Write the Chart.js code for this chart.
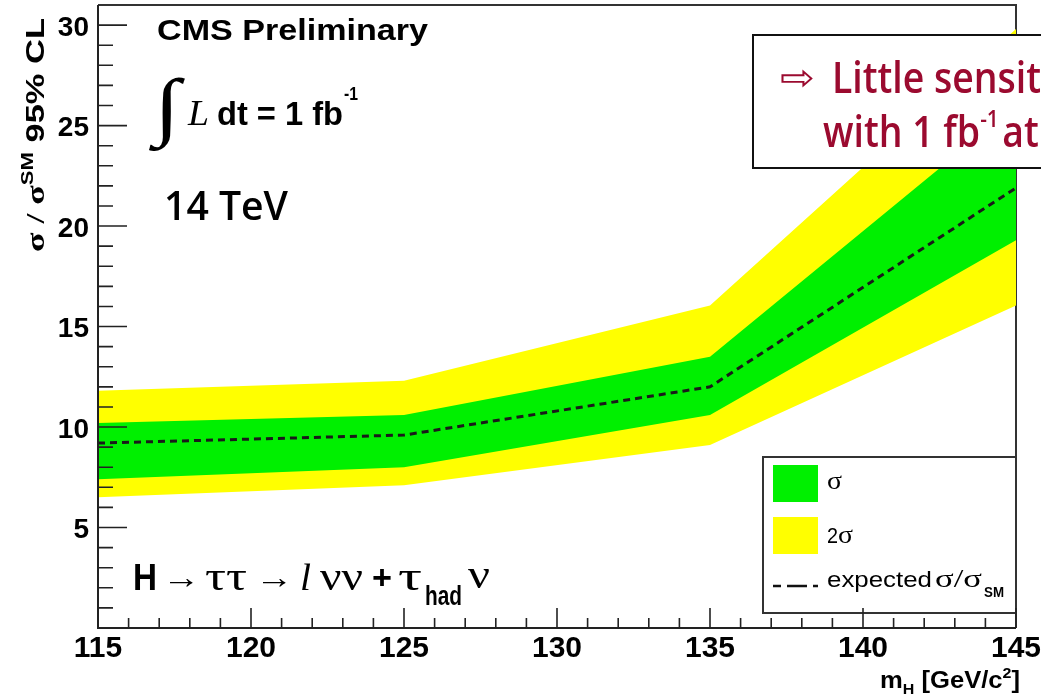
<!DOCTYPE html>
<html>
<head>
<meta charset="utf-8">
<script src="https://cdn.jsdelivr.net/npm/chart.js@4.4.0/dist/chart.umd.min.js"></script>
<style>
html, body { margin: 0; padding: 0; background: #fff; }
canvas { display: block; }
</style>
</head>
<body>
<canvas id="myChart" width="1041" height="697"></canvas>
<script>
// Higgs mass points and limit bands (sigma / sigma_SM at 95% CL)
const massPoints = [115, 125, 135, 145];
const expected = [9.2, 9.6, 12.0, 21.9];
const oneSigmaUp = [10.2, 10.6, 13.5, 26.0];
const oneSigmaDown = [7.4, 8.0, 10.6, 19.3];
const twoSigmaUp = [11.8, 12.3, 16.05, 29.8];
const twoSigmaDown = [6.5, 7.1, 9.1, 16.05];
const xTicks = [115, 120, 125, 130, 135, 140, 145];
const yTicks = [5, 10, 15, 20, 25, 30];

const GREEN = '#00f000';
const YELLOW = '#ffff00';
const RED = '#9b0a2f';
const SANS = "'Liberation Sans', Arial, sans-serif";
const SERIF = "'Liberation Serif', 'DejaVu Serif', serif";
const BOX = "'Open Sans', 'DejaVu Sans', sans-serif";

function toXY(values) {
  return massPoints.map((m, i) => ({ x: m, y: values[i] }));
}

// draw text squeezed/stretched horizontally to a given width
function put(ctx, text, x, y, font, w, color) {
  ctx.save();
  ctx.font = font;
  ctx.fillStyle = color || '#000';
  ctx.textBaseline = 'alphabetic';
  ctx.textAlign = 'left';
  const nat = ctx.measureText(text).width;
  const sx = w ? w / nat : 1;
  ctx.translate(x, y);
  ctx.scale(sx, 1);
  ctx.fillText(text, 0, 0);
  ctx.restore();
}

// several runs of text (different fonts / raised or lowered) fitted to a width
function runs(ctx, parts, w) {
  let total = 0;
  parts.forEach(p => { ctx.font = p[1]; total += ctx.measureText(p[0]).width; });
  const sx = w ? w / total : 1;
  ctx.save();
  ctx.scale(sx, 1);
  let cx = 0;
  parts.forEach(p => {
    ctx.font = p[1];
    ctx.fillText(p[0], cx, p[2] || 0);
    cx += ctx.measureText(p[0]).width;
  });
  ctx.restore();
}

const rootDecor = {
  id: 'rootDecor',
  beforeDatasetsDraw(chart) {
    const { ctx, chartArea: a } = chart;
    ctx.save();
    ctx.strokeStyle = '#333';
    ctx.lineWidth = 2;
    ctx.beginPath();
    ctx.moveTo(a.left, a.top);
    ctx.lineTo(a.right, a.top);
    ctx.lineTo(a.right, a.bottom);
    ctx.stroke();
    ctx.restore();
  },
  afterDraw(chart) {
    const { ctx, chartArea: a } = chart;
    const xs = chart.scales.x, ys = chart.scales.y;
    ctx.save();
    ctx.textBaseline = 'alphabetic';
    ctx.fillStyle = '#000';

    // annotations
    put(ctx, 'CMS Preliminary', 157, 40, 'bold 30px ' + SANS, 271);

    ctx.save();
    ctx.font = '64px ' + SERIF;
    const im = ctx.measureText('\u222B');
    const ih = im.actualBoundingBoxAscent + im.actualBoundingBoxDescent;
    const iw = im.actualBoundingBoxLeft + im.actualBoundingBoxRight;
    ctx.translate(148, 77);
    ctx.scale(37 / iw, 75 / ih);
    ctx.fillText('\u222B', im.actualBoundingBoxLeft, im.actualBoundingBoxAscent);
    ctx.restore();
    put(ctx, 'L', 188, 125, 'italic 36px ' + SERIF, 21);
    put(ctx, 'dt = 1 fb', 217, 125, 'bold 33px ' + SANS, 126);
    put(ctx, '-1', 344, 100, 'bold 18px ' + SANS, 14);

    put(ctx, '14 TeV', 164, 220, '600 39px ' + BOX, 124);

    // decay channel
    const base = 590;
    put(ctx, 'H', 133, base, 'bold 36px ' + SANS, 24);
    put(ctx, '\u2192', 162, base - 2, '32px ' + SERIF, 38);
    put(ctx, '\u03C4\u03C4', 205, base, '40px ' + SERIF, 42);
    put(ctx, '\u2192', 255, base - 2, '32px ' + SERIF, 38);
    put(ctx, 'l', 300, base, 'italic 38px ' + SERIF, 11);
    put(ctx, '\u03BD\u03BD', 320, base, '40px ' + SERIF, 43);
    put(ctx, '+', 372, base - 1, 'bold 34px ' + SANS, 20);
    put(ctx, '\u03C4', 398, base, '40px ' + SERIF, 24);
    put(ctx, 'had', 425, base + 15, 'bold 28px ' + SANS, 37);
    put(ctx, '\u03BD', 468, base - 2, '40px ' + SERIF, 22);

    // axis titles
    ctx.save();
    ctx.translate(44, 252);
    ctx.rotate(-Math.PI / 2);
    runs(ctx, [
      ['\u03C3 / \u03C3', 'bold 26px ' + SERIF],
      ['SM', 'bold 16px ' + SANS, -11],
      [' 95% CL', 'bold 25px ' + SANS]
    ], 234);
    ctx.restore();

    ctx.save();
    ctx.translate(880, 688);
    runs(ctx, [
      ['m', 'bold 24px ' + SANS],
      ['H', 'bold 15px ' + SANS, 6],
      [' [GeV/c', 'bold 24px ' + SANS],
      ['2', 'bold 15px ' + SANS, -10],
      [']', 'bold 24px ' + SANS]
    ], 140);
    ctx.restore();

    // legend
    ctx.strokeStyle = '#333';
    ctx.lineWidth = 2;
    ctx.strokeRect(763, 457, a.right - 763, 156);
    ctx.fillStyle = GREEN;
    ctx.fillRect(773, 465, 45, 37);
    ctx.fillStyle = YELLOW;
    ctx.fillRect(773, 517, 45, 37);
    ctx.save();
    ctx.strokeStyle = '#111';
    ctx.lineWidth = 2.5;
    ctx.setLineDash([8, 6, 20, 6]);
    ctx.beginPath();
    ctx.moveTo(773, 586);
    ctx.lineTo(818, 586);
    ctx.stroke();
    ctx.restore();
    ctx.fillStyle = '#000';
    put(ctx, '\u03C3', 827, 489, '26px ' + SERIF, 15);
    put(ctx, '2', 827, 543, '22px ' + SANS, 11);
    put(ctx, '\u03C3', 838, 543, '26px ' + SERIF, 15);
    put(ctx, 'expected', 827, 587, '22px ' + SANS, 105);
    put(ctx, '\u03C3/\u03C3', 935, 587, '26px ' + SERIF, 47);
    put(ctx, 'SM', 984, 597, 'bold 14px ' + SANS, 20);

    // message box
    ctx.fillStyle = '#fff';
    ctx.fillRect(753, 35, 320, 133);
    ctx.strokeStyle = '#111';
    ctx.lineWidth = 2;
    ctx.strokeRect(753, 35, 320, 133);
    put(ctx, '\u21E8', 780, 90, '36px "DejaVu Sans"', 35, RED);
    ctx.font = '600 43px ' + BOX;
    const bsx = 209 / ctx.measureText('Little sensit').width;
    ctx.save();
    ctx.fillStyle = RED;
    ctx.translate(832, 93);
    ctx.scale(bsx, 1);
    ctx.fillText('Little sensitivity', 0, 0);
    ctx.restore();
    ctx.save();
    ctx.fillStyle = RED;
    ctx.translate(823, 147);
    ctx.scale(bsx, 1);
    let cx = 0;
    ctx.font = '600 43px ' + BOX;
    ctx.fillText('with 1 fb', cx, 0);
    cx += ctx.measureText('with 1 fb').width;
    ctx.font = '600 24px ' + BOX;
    ctx.fillText('-1', cx, -20);
    cx += ctx.measureText('-1').width + 4;
    ctx.font = '600 43px ' + BOX;
    ctx.fillText('at 14 TeV', cx, 0);
    ctx.restore();

    // axes and inward ticks
    ctx.strokeStyle = '#222';
    ctx.lineWidth = 2;
    ctx.beginPath();
    ctx.moveTo(a.left, a.top);
    ctx.lineTo(a.left, a.bottom);
    ctx.lineTo(a.right, a.bottom);
    ctx.stroke();
    ctx.lineWidth = 1.6;
    ctx.beginPath();
    for (let v = 115; v <= 145; v++) {
      const px = xs.getPixelForValue(v);
      const len = v % 5 === 0 ? 20 : 10;
      ctx.moveTo(px, a.bottom);
      ctx.lineTo(px, a.bottom - len);
    }
    for (let v = 1; v <= 30; v++) {
      const py = ys.getPixelForValue(v);
      const len = v % 5 === 0 ? 29 : 15;
      ctx.moveTo(a.left, py);
      ctx.lineTo(a.left + len, py);
    }
    ctx.stroke();
    ctx.restore();
  }
};

function initChart() {
  const ctx = document.getElementById('myChart');
  const none = 'rgba(0,0,0,0)';
  return new Chart(ctx, {
    type: 'line',
    data: {
      datasets: [
        { label: 'expected', data: toXY(expected), borderColor: '#1a1a1a', borderWidth: 3, borderDash: [7, 5], fill: false, pointRadius: 0 },
        { label: 'sigma up', data: toXY(oneSigmaUp), borderColor: none, borderWidth: 1, backgroundColor: GREEN, fill: 2, pointRadius: 0 },
        { label: 'sigma down', data: toXY(oneSigmaDown), borderColor: none, borderWidth: 1, fill: false, pointRadius: 0 },
        { label: '2 sigma up', data: toXY(twoSigmaUp), borderColor: none, borderWidth: 1, backgroundColor: YELLOW, fill: 4, pointRadius: 0 },
        { label: '2 sigma down', data: toXY(twoSigmaDown), borderColor: none, borderWidth: 1, fill: false, pointRadius: 0 }
      ]
    },
    options: {
      responsive: false,
      animation: false,
      devicePixelRatio: 1,
      layout: { padding: { top: 5, right: 25, left: 0, bottom: 0 } },
      elements: { line: { tension: 0 } },
      plugins: { legend: { display: false }, tooltip: { enabled: false } },
      scales: {
        x: {
          type: 'linear', min: 115, max: 145,
          afterBuildTicks: s => { s.ticks = xTicks.map(v => ({ value: v })); },
          afterFit: s => { s.height = 69; s.paddingLeft = 0; s.paddingRight = 0; },
          grid: { display: false, drawTicks: false },
          border: { display: false },
          ticks: { font: { family: 'Liberation Sans', size: 30, weight: 'bold' }, color: '#000', padding: 3, maxRotation: 0, autoSkip: false }
        },
        y: {
          type: 'linear', min: 0, max: 31,
          afterBuildTicks: s => { s.ticks = yTicks.map(v => ({ value: v })); },
          afterFit: s => { s.width = 98; s.paddingTop = 0; s.paddingBottom = 0; },
          grid: { display: false, drawTicks: false },
          border: { display: false },
          ticks: { font: { family: 'Liberation Sans', size: 28, weight: 'bold' }, color: '#000', padding: 9, labelOffset: 3 }
        }
      }
    },
    plugins: [rootDecor]
  });
}

document.addEventListener('DOMContentLoaded', () => initChart());
</script>
</body>
</html>
